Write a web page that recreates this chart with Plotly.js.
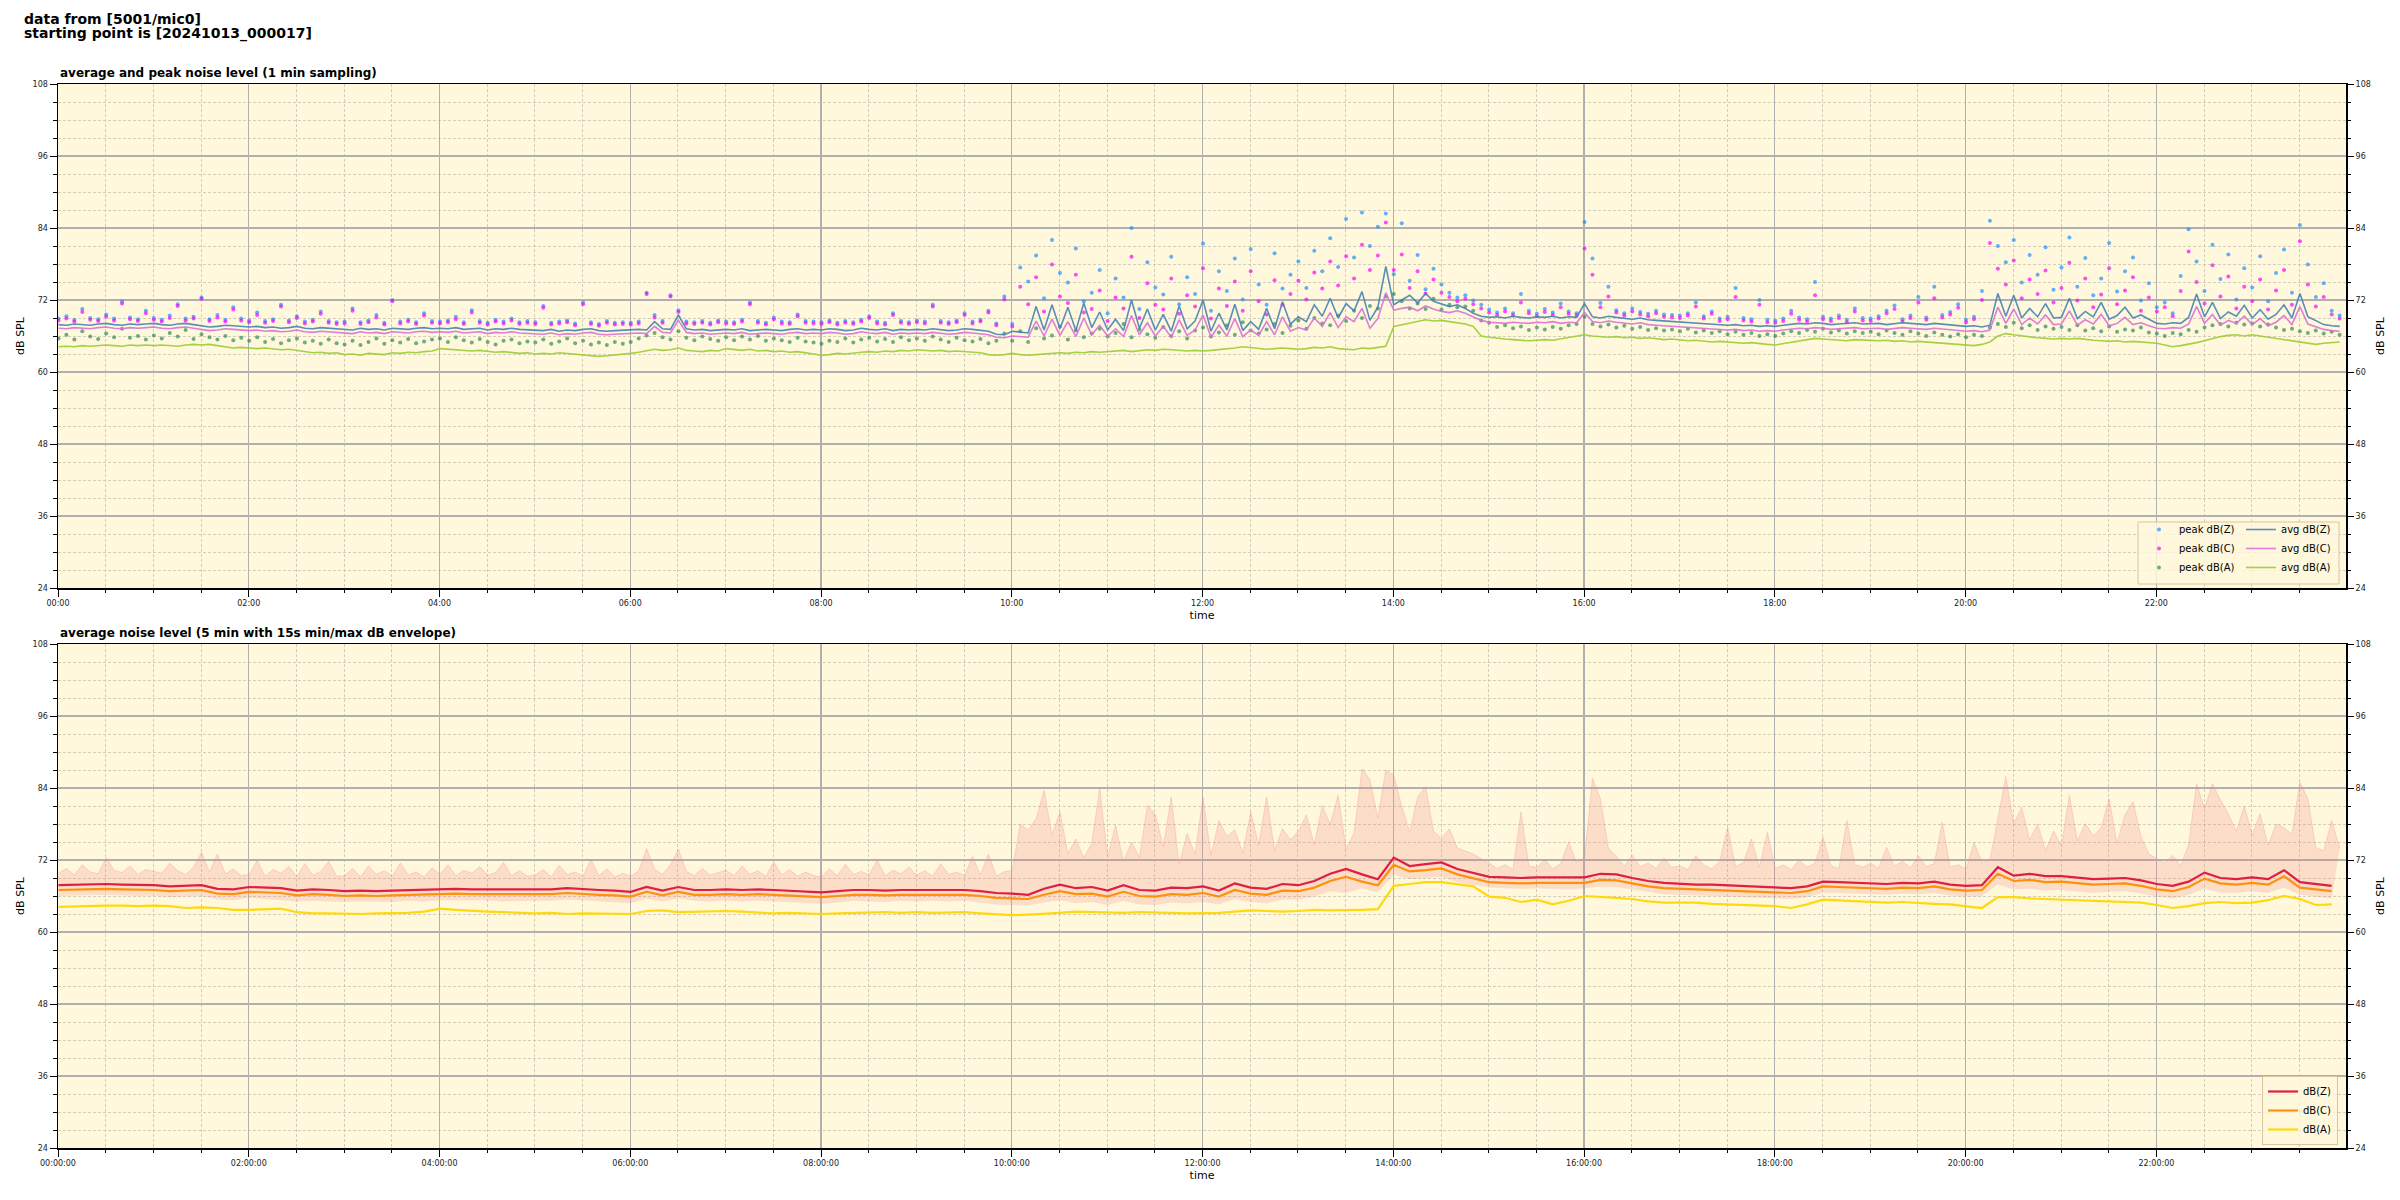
<!DOCTYPE html>
<html>
<head>
<meta charset="utf-8">
<script src="https://cdn.plot.ly/plotly-3.0.1.min.js"></script>
<style>html,body{margin:0;padding:0;background:#fff;}#chart{width:2400px;height:1200px;}</style>
</head>
<body>
<div id="chart"></div>
<script>
// ---------- DATA ----------
// top panel, 5-minute samples from 00:00 to 23:55 (12 values per hour row)
const avgZ = [
67.9,67.8,68.0,67.9,67.8,68.0,68.1,67.9,67.8,68.0,67.9,68.0,
68.1,67.9,67.8,68.0,68.1,67.9,67.7,67.5,67.6,67.8,67.7,67.6,
67.5,67.6,67.4,67.5,67.3,67.4,67.6,67.3,67.2,67.4,67.3,67.2,
67.2,67.0,67.3,67.1,67.2,67.0,67.3,67.2,67.1,67.3,67.4,67.2,
67.3,67.2,67.4,67.1,67.2,67.3,67.0,67.2,67.1,67.3,67.1,67.0,
67.0,66.9,67.1,66.8,67.0,66.9,67.1,67.2,66.9,66.8,66.9,67.0,
67.0,67.1,67.0,68.4,67.2,67.1,69.5,67.2,67.0,67.1,66.9,67.0,
67.1,67.0,67.2,66.9,67.0,67.1,67.0,66.9,67.1,67.2,67.0,67.1,
67.0,67.2,67.1,66.9,67.0,67.3,67.1,67.0,67.2,66.9,67.1,67.0,
67.1,67.0,67.2,67.1,66.9,67.0,67.2,67.1,67.0,66.8,66.3,66.2,
66.8,66.7,66.5,70.9,67.0,71.2,67.2,70.8,66.9,71.5,67.4,70.0,
67.0,68.8,66.9,72.0,67.3,70.5,67.0,69.6,66.8,71.0,67.2,68.5,
72.0,66.8,69.8,67.0,71.3,66.9,68.4,67.1,70.6,67.2,71.7,68.0,
69.2,68.4,71.2,69.3,72.3,69.0,71.4,70.2,73.4,68.6,70.8,77.6,
71.2,72.0,72.8,71.5,73.1,71.8,71.3,70.9,71.2,70.6,69.8,69.3,
69.1,69.2,69.0,69.3,69.1,69.0,69.2,69.1,69.3,69.0,69.2,69.1,
71.4,69.2,69.0,69.3,69.1,68.9,68.8,69.0,68.7,68.6,68.5,68.4,
68.4,68.3,68.2,68.1,68.0,67.9,67.8,67.9,67.7,67.8,67.6,67.7,
67.6,67.8,67.9,68.1,68.0,68.2,68.1,67.9,68.0,68.1,68.2,68.0,
68.0,68.1,67.9,68.0,68.2,68.1,68.0,67.9,68.1,68.0,67.8,67.7,
67.6,67.7,67.5,67.8,73.1,69.3,72.8,69.0,70.6,69.2,71.4,69.0,
69.1,72.3,68.9,70.1,69.2,71.6,68.8,69.4,70.8,69.0,69.5,68.8,
68.1,68.0,68.2,68.1,69.1,73.0,69.2,71.6,68.9,70.0,69.3,71.1,
69.0,70.4,68.8,69.6,71.2,69.0,73.1,69.2,68.5,67.9,67.7,67.6];
const avgC = [
67.3,67.2,67.4,67.3,67.2,67.4,67.5,67.3,67.2,67.4,67.3,67.4,
67.5,67.3,67.2,67.4,67.5,67.3,67.1,66.9,67.0,67.2,67.1,67.0,
66.9,67.0,66.8,66.9,66.7,66.8,67.0,66.7,66.6,66.8,66.7,66.6,
66.6,66.4,66.7,66.5,66.6,66.4,66.7,66.6,66.5,66.7,66.8,66.6,
66.7,66.6,66.8,66.5,66.6,66.7,66.4,66.6,66.5,66.7,66.5,66.4,
66.4,66.3,66.5,66.2,66.4,66.3,66.5,66.6,66.3,66.2,66.3,66.4,
66.4,66.5,66.4,67.6,66.6,66.5,68.6,66.6,66.4,66.5,66.3,66.4,
66.5,66.4,66.6,66.3,66.4,66.5,66.4,66.3,66.5,66.6,66.4,66.5,
66.4,66.6,66.5,66.3,66.4,66.7,66.5,66.4,66.6,66.3,66.5,66.4,
66.5,66.4,66.6,66.5,66.3,66.4,66.6,66.5,66.4,66.2,65.8,65.7,
66.0,65.9,65.8,68.5,66.0,68.8,66.1,68.4,65.9,69.0,66.2,67.8,
66.0,67.2,65.9,69.4,66.2,68.2,66.0,67.6,65.8,68.7,66.1,67.0,
69.5,65.8,67.8,66.0,68.9,65.9,67.0,66.1,68.4,66.2,69.2,66.8,
67.4,67.0,69.0,67.6,69.9,67.4,69.2,68.4,70.6,67.3,68.9,73.2,
70.3,70.6,70.8,70.2,71.0,70.5,70.1,69.9,70.2,69.8,69.2,68.6,
68.3,68.2,68.1,68.3,68.2,68.1,68.3,68.2,68.4,68.1,68.3,68.2,
69.9,68.4,68.2,68.5,68.3,68.1,68.0,68.2,67.9,67.8,67.7,67.6,
67.6,67.5,67.4,67.3,67.2,67.1,67.0,67.1,66.9,67.0,66.8,66.9,
66.8,67.0,67.1,67.3,67.2,67.4,67.3,67.1,67.2,67.3,67.4,67.2,
67.2,67.3,67.1,67.2,67.4,67.3,67.2,67.1,67.3,67.2,67.0,66.9,
66.8,66.9,66.7,67.0,70.8,68.1,70.5,67.9,69.0,68.0,69.5,67.9,
68.0,70.2,67.8,68.7,68.0,69.6,67.7,68.1,69.1,67.9,68.2,67.7,
67.3,67.2,67.4,67.3,68.0,70.9,68.1,69.6,67.8,68.6,68.1,69.3,
67.9,68.9,67.7,68.3,69.4,67.9,70.9,68.0,67.5,67.1,66.9,66.8];
const avgA = [
64.2,64.3,64.2,64.4,64.3,64.4,64.5,64.4,64.3,64.5,64.4,64.5,
64.4,64.5,64.4,64.3,64.5,64.6,64.5,64.6,64.4,64.2,64.0,64.1,
64.0,63.9,64.0,63.8,63.7,63.8,63.6,63.4,63.2,63.3,63.1,63.2,
62.9,63.0,62.8,63.1,63.0,62.9,63.2,63.1,63.3,63.2,63.4,63.5,
63.9,63.8,63.7,63.6,63.5,63.6,63.4,63.3,63.4,63.2,63.1,63.2,
63.0,63.1,63.0,63.2,63.1,63.0,62.9,62.8,62.6,62.7,62.8,62.9,
63.1,63.3,63.5,63.8,63.6,63.7,64.0,63.6,63.5,63.4,63.6,63.5,
63.9,63.7,63.6,63.8,63.5,63.6,63.4,63.5,63.3,63.4,63.2,63.1,
62.8,62.9,63.1,63.0,63.2,63.3,63.4,63.3,63.5,63.4,63.6,63.5,
63.7,63.6,63.5,63.6,63.4,63.5,63.4,63.3,63.2,62.9,62.8,62.9,
63.1,62.9,62.8,62.9,63.0,63.1,63.2,63.1,63.3,63.2,63.4,63.3,
63.4,63.5,63.6,63.4,63.5,63.7,63.6,63.8,63.7,63.6,63.5,63.6,
63.5,63.6,63.7,63.8,64.0,64.2,64.1,63.9,63.8,63.9,64.0,63.9,
63.8,63.9,64.1,64.0,64.2,63.9,63.8,63.7,64.0,63.9,64.1,64.3,
67.6,67.9,68.1,68.4,68.7,68.5,68.6,68.4,68.2,68.0,67.6,66.0,
65.8,65.6,65.5,65.4,65.3,65.2,65.3,65.4,65.3,65.5,65.7,65.9,
66.2,66.0,65.9,65.8,65.9,65.7,65.8,65.6,65.7,65.5,65.4,65.5,
65.3,65.2,65.3,65.1,65.0,65.1,65.0,64.9,64.8,64.9,64.7,64.6,
64.5,64.7,64.9,65.2,65.4,65.6,65.5,65.4,65.3,65.2,65.4,65.3,
65.3,65.2,65.3,65.1,65.2,65.0,65.1,65.0,64.9,64.8,64.7,64.6,
64.5,64.4,64.6,65.0,66.0,66.4,66.2,66.0,65.8,65.7,65.6,65.5,
65.6,65.5,65.6,65.4,65.3,65.2,65.1,65.2,65.0,65.1,65.0,64.9,
64.8,64.5,64.2,64.4,64.6,64.9,65.2,65.6,65.9,66.1,66.2,66.0,
66.2,66.0,65.8,65.6,65.4,65.2,64.9,64.7,64.6,64.8,64.9,65.0];
const peakZ = [
68.9,69.3,68.7,70.5,69.0,68.8,69.6,68.9,71.8,69.1,68.8,70.2,
69.0,68.7,69.4,71.3,68.9,69.2,72.4,68.8,69.5,68.7,70.8,68.9,
68.6,69.9,68.5,68.8,71.2,68.6,69.3,68.4,68.7,70.1,68.5,68.3,
68.4,70.6,68.3,68.6,69.5,68.2,72.0,68.4,68.7,68.3,69.8,68.5,
68.4,68.6,69.2,68.3,70.3,68.5,68.2,68.7,68.4,68.9,68.3,68.5,
68.3,71.0,68.2,68.4,68.6,68.1,71.6,68.3,68.0,68.5,68.2,68.3,
68.2,68.4,73.2,69.5,68.5,72.8,70.3,68.4,68.3,68.5,68.2,68.6,
68.4,68.3,68.7,71.6,68.5,68.2,69.1,68.4,68.3,69.6,68.5,68.4,
68.3,68.6,68.2,68.5,68.3,68.7,69.3,68.4,68.2,69.8,68.5,68.3,
68.6,68.4,71.2,68.5,68.3,68.6,69.8,68.4,68.7,70.2,68.1,72.6,
68.0,77.4,75.1,79.4,72.3,82.0,76.5,74.9,80.6,71.8,73.2,77.0,
69.8,75.6,72.4,84.0,70.5,78.3,74.1,72.9,79.2,71.3,75.8,73.0,
81.4,70.2,76.8,73.5,78.9,72.1,80.5,74.6,71.2,79.8,73.9,76.2,
78.4,74.0,80.2,76.8,82.3,77.5,85.5,79.1,86.6,81.0,84.2,86.4,
76.3,84.8,75.2,79.5,73.8,77.2,74.6,73.2,72.4,72.8,71.9,71.2,
70.4,69.9,70.6,69.8,73.0,70.2,69.7,70.5,69.9,71.4,70.1,69.8,
85.0,78.9,71.5,74.2,70.3,69.8,70.6,70.0,69.7,70.2,69.6,69.5,
69.4,69.8,71.6,69.3,70.1,68.9,69.2,74.0,69.0,68.8,72.0,68.7,
68.6,68.9,70.2,69.1,68.8,75.0,69.2,68.9,69.4,68.7,70.6,69.0,
68.9,69.3,70.2,71.1,68.8,69.4,72.5,69.1,74.2,69.5,70.0,71.3,
68.7,69.2,73.5,85.2,81.0,78.3,82.0,74.9,79.5,76.2,80.8,73.7,
77.4,82.4,74.2,79.0,72.8,75.6,81.5,73.4,76.8,79.1,71.9,74.8,
70.8,71.6,69.8,76.0,83.8,78.4,73.5,81.2,75.5,79.6,72.1,77.3,
74.1,79.3,71.8,76.5,80.4,73.2,84.5,77.9,72.5,74.8,70.2,69.4];
const peakC = [
68.6,68.9,68.4,70.0,68.7,68.5,69.2,68.6,71.4,68.8,68.5,69.8,
68.7,68.4,69.0,71.0,68.6,68.9,72.2,68.5,69.1,68.4,70.4,68.6,
68.3,69.5,68.2,68.5,70.9,68.3,69.0,68.1,68.4,69.7,68.2,68.0,
68.1,70.2,68.0,68.3,69.1,67.9,71.8,68.1,68.4,68.0,69.4,68.2,
68.1,68.3,68.8,68.0,69.9,68.2,67.9,68.4,68.1,68.6,68.0,68.2,
68.0,70.7,67.9,68.1,68.3,67.8,71.3,68.0,67.7,68.2,67.9,68.0,
67.9,68.1,73.0,69.1,68.2,72.6,70.0,68.1,68.0,68.2,67.9,68.3,
68.1,68.0,68.4,71.3,68.2,67.9,68.8,68.1,68.0,69.3,68.2,68.1,
68.0,68.3,67.9,68.2,68.0,68.4,69.0,68.1,67.9,69.5,68.2,68.0,
68.3,68.1,70.9,68.2,68.0,68.3,69.5,68.1,68.4,69.9,67.8,72.1,
67.6,74.2,71.3,75.8,70.1,77.9,72.6,71.5,76.2,69.9,70.5,73.6,
68.5,72.4,70.6,79.2,69.0,74.8,71.2,70.4,75.6,69.7,72.8,70.9,
77.3,68.9,73.9,71.0,75.1,70.2,76.8,71.8,69.6,75.3,71.2,73.0,
75.2,72.1,76.6,73.9,78.4,74.4,79.3,75.6,81.2,77.0,79.4,84.9,
77.0,79.6,74.0,76.8,73.1,75.4,73.2,72.5,71.8,72.2,71.3,70.6,
69.9,69.5,70.1,69.4,71.6,69.8,69.3,70.0,69.5,70.8,69.7,69.4,
80.6,76.2,70.8,72.6,69.9,69.4,70.1,69.6,69.3,69.8,69.2,69.1,
69.0,69.4,70.9,68.9,69.7,68.5,68.8,72.5,68.6,68.4,71.2,68.3,
68.2,68.5,69.7,68.7,68.4,72.8,68.8,68.5,69.0,68.3,70.1,68.6,
68.5,68.9,69.8,70.5,68.4,69.0,71.6,68.7,72.3,69.1,69.6,70.7,
68.3,68.8,72.0,81.5,77.2,74.6,78.6,72.3,75.4,73.0,76.9,71.6,
74.0,78.2,71.9,75.6,70.8,72.9,77.3,71.3,73.6,75.8,70.2,72.4,
70.1,70.8,69.3,73.5,80.1,75.0,71.4,77.8,72.6,75.9,70.6,74.2,
71.8,75.4,70.4,73.6,77.0,71.2,81.8,74.6,70.9,72.5,69.6,68.9];
const peakA = [
65.6,66.2,65.4,66.8,65.9,65.5,66.4,65.8,67.2,65.7,66.0,65.4,
66.1,65.6,66.5,65.9,67.0,65.5,66.3,65.8,65.4,66.0,65.3,65.7,
65.2,65.8,65.0,65.5,64.8,65.3,65.6,64.9,65.2,64.7,65.4,64.8,
64.6,65.2,64.5,65.0,65.6,64.7,65.3,64.9,65.5,64.8,65.1,65.4,
65.6,65.0,65.8,65.3,64.9,65.5,65.0,64.6,65.2,65.4,64.8,65.1,
64.9,65.4,64.7,65.1,65.6,64.8,65.2,64.6,64.9,64.5,65.0,64.7,
65.0,65.6,66.1,66.5,65.8,65.4,66.8,65.7,65.3,65.9,65.5,65.2,
65.8,65.3,65.9,65.4,66.0,65.2,65.6,65.3,65.0,65.7,65.1,64.9,
64.7,65.2,65.0,65.6,64.9,65.4,65.7,65.1,65.5,65.0,65.8,65.3,
65.6,65.2,65.9,65.4,65.0,65.7,65.3,65.1,65.5,64.8,65.2,66.4,
65.2,66.8,65.0,67.3,65.6,66.1,67.6,65.4,66.9,65.8,66.4,67.2,
65.9,66.5,68.0,65.8,67.1,66.3,65.7,67.5,66.0,66.8,65.6,66.9,
67.4,65.9,66.6,67.8,66.2,68.3,66.9,66.4,67.1,68.0,66.5,67.7,
68.6,67.2,69.0,68.1,67.8,69.4,68.5,70.2,69.0,71.0,70.6,72.6,
73.0,71.8,70.6,71.4,70.5,72.2,70.4,71.2,70.8,70.9,70.2,68.6,
68.2,67.5,67.8,67.3,67.6,67.0,67.4,67.1,67.5,67.2,67.8,68.0,
69.2,68.0,67.6,67.9,67.4,67.7,67.2,67.5,67.0,67.3,66.9,67.1,
66.8,67.2,66.6,66.9,66.5,66.8,66.3,66.7,66.2,66.5,66.0,66.3,
66.0,66.4,66.8,66.5,67.0,66.7,67.2,66.6,66.9,66.4,66.8,66.5,
66.7,66.3,66.9,66.5,66.2,66.8,66.4,66.0,66.6,66.2,65.9,66.3,
65.8,66.2,66.0,67.4,68.0,67.5,68.2,67.3,67.8,67.0,67.6,67.2,
67.5,67.0,67.8,66.9,67.3,66.8,67.6,66.7,67.1,66.9,67.4,66.6,
66.4,66.0,66.5,66.3,67.0,66.7,67.4,67.8,68.0,67.6,68.2,67.9,
68.1,67.6,67.9,67.4,67.0,67.2,66.8,66.5,66.9,66.4,66.7,66.2];

// bottom panel, 5-min averages shown every 10 minutes (6 values per hour)
const lvlZ = [
67.8,67.9,67.9,68.0,67.9,67.9, 67.8,67.6,67.7,67.8,67.2,67.1,
67.5,67.4,67.3,66.9,67.1,67.0, 66.8,66.9,66.8,66.9,67.0,67.0,
67.1,67.2,67.1,67.1,67.0,67.1, 67.0,67.1,67.3,67.1,67.0,66.9,
66.7,67.5,66.9,67.5,67.0,67.0, 67.1,67.0,67.1,67.0,66.9,66.8,
66.6,66.8,67.0,67.0,66.9,67.0, 67.0,67.1,67.0,67.0,66.8,66.5,
66.4,66.2,67.2,67.9,67.3,67.5, 66.9,67.8,67.0,66.9,67.4,67.3,
67.6,66.9,68.1,67.4,67.2,68.0, 67.8,68.5,69.7,70.5,69.6,68.8,
72.4,71.0,71.3,71.6,70.5,69.9, 69.2,69.1,69.0,69.1,69.1,69.0,
69.1,69.7,69.6,69.0,68.5,68.2, 68.0,67.9,67.9,67.8,67.6,67.5,
67.4,67.3,67.6,68.4,68.3,68.2, 68.1,68.0,68.2,68.1,68.4,67.9,
67.7,67.8,70.8,69.4,69.7,69.3, 69.3,69.0,68.8,68.9,69.0,68.6,
68.0,67.7,68.4,69.9,69.0,68.8, 69.1,68.8,70.3,68.3,68.0,67.7];
const lvlC = [
67.0,67.1,67.1,67.2,67.1,67.1, 67.0,66.8,66.9,67.0,66.4,66.3,
66.7,66.6,66.5,66.1,66.3,66.2, 66.0,66.1,66.0,66.1,66.2,66.2,
66.3,66.4,66.3,66.3,66.2,66.3, 66.2,66.3,66.5,66.3,66.2,66.1,
65.9,66.7,66.1,66.7,66.2,66.2, 66.3,66.2,66.3,66.2,66.1,66.0,
65.8,66.0,66.2,66.2,66.1,66.2, 66.2,66.3,66.2,66.2,66.0,65.7,
65.6,65.5,66.2,66.8,66.3,66.4, 65.9,66.7,66.0,65.9,66.3,66.2,
66.5,65.9,67.0,66.4,66.2,66.9, 66.8,67.4,68.5,69.2,68.4,67.8,
71.2,70.1,70.3,70.6,69.6,69.0, 68.3,68.2,68.1,68.2,68.2,68.1,
68.2,68.7,68.6,68.1,67.6,67.3, 67.2,67.1,67.1,67.0,66.8,66.7,
66.6,66.5,66.8,67.6,67.5,67.4, 67.3,67.2,67.4,67.3,67.6,67.1,
66.9,67.0,69.7,68.5,68.7,68.3, 68.4,68.1,67.9,68.0,68.1,67.7,
67.1,66.8,67.5,68.9,68.1,67.9, 68.2,67.9,69.3,67.4,67.1,66.8];
const lvlA = [
64.2,64.3,64.4,64.4,64.4,64.3, 64.4,64.3,64.0,64.1,64.0,63.7,
63.7,63.8,63.9,63.3,63.1,63.1, 63.0,63.0,63.1,63.1,63.2,63.4,
63.9,63.7,63.5,63.4,63.3,63.2, 63.1,63.2,63.0,63.1,63.1,63.0,
63.0,63.5,63.6,63.3,63.4,63.4, 63.5,63.4,63.2,63.1,63.2,63.1,
63.0,63.1,63.2,63.2,63.3,63.2, 63.3,63.2,63.2,63.3,63.1,62.9,
62.8,62.9,63.0,63.2,63.4,63.3, 63.3,63.2,63.3,63.3,63.2,63.1,
63.1,63.2,63.4,63.6,63.5,63.4, 63.5,63.7,63.6,63.6,63.7,63.8,
67.7,68.0,68.3,68.3,68.0,67.6, 65.9,65.7,65.0,65.4,64.6,65.2,
66.0,65.9,65.7,65.5,65.1,64.9, 64.9,64.9,64.7,64.6,64.5,64.4,
64.3,64.0,64.6,65.4,65.3,65.1, 65.0,64.9,65.0,64.8,64.7,64.6,
64.3,64.0,65.8,65.8,65.6,65.5, 65.4,65.4,65.3,65.2,65.0,64.9,
64.5,64.0,64.3,64.8,65.0,64.8, 64.9,65.3,66.0,65.5,64.5,64.6];
// 15 s min/max envelope: minimum every 10 min, maximum every 5 min
const envMin = [
66.0,66.1,66.2,66.2,66.1,66.0, 66.1,65.8,65.9,66.0,65.4,65.3,
65.7,65.5,65.4,65.1,65.2,65.1, 65.0,65.1,65.0,65.0,65.2,65.1,
65.3,65.3,65.2,65.3,65.1,65.2, 65.2,65.2,65.4,65.3,65.1,65.0,
64.8,65.6,65.1,65.6,65.2,65.1, 65.3,65.1,65.2,65.1,65.0,64.9,
64.7,64.9,65.2,65.1,65.0,65.2, 65.1,65.2,65.1,65.2,64.9,64.6,
64.5,64.4,64.9,65.3,64.8,65.0, 64.5,65.2,64.6,64.5,64.9,64.8,
65.0,64.6,65.5,65.0,64.8,65.4, 65.4,65.9,66.8,66.5,67.3,66.6,
69.6,68.8,69.0,69.2,68.3,67.8, 67.4,67.3,67.2,67.3,67.2,67.1,
67.3,67.6,67.5,67.1,66.6,66.3, 66.2,66.1,66.1,66.0,65.8,65.7,
65.6,65.5,65.8,66.6,66.5,66.4, 66.3,66.2,66.4,66.3,66.5,66.1,
65.9,66.0,67.9,67.1,67.2,66.9, 67.0,66.7,66.5,66.7,66.8,66.4,
65.9,65.6,66.2,67.2,66.6,66.5, 66.8,66.5,67.4,66.2,65.9,65.6];
const envMax = [
69.8,70.6,69.5,71.2,70.0,69.7,72.4,70.3,69.9,71.0,69.6,70.4,
70.1,69.8,71.5,70.2,69.6,70.8,73.3,70.0,73.0,69.7,70.5,69.4,
69.6,71.9,69.3,70.4,69.8,70.9,69.2,71.4,69.5,70.1,71.8,69.3,
69.4,70.6,69.2,71.0,69.6,70.2,69.3,71.5,69.5,70.0,69.2,70.7,
69.6,71.2,69.4,70.3,69.8,70.9,69.5,69.9,71.6,69.4,70.2,69.3,
69.5,70.4,69.2,71.1,69.6,70.0,69.3,72.1,69.4,70.5,69.2,69.8,
69.3,70.2,73.9,70.5,69.6,71.2,73.8,70.1,69.4,70.6,69.5,69.9,
70.3,69.4,71.0,69.6,70.2,69.3,71.7,69.5,70.4,69.3,70.0,69.4,
69.2,70.5,69.4,71.3,69.6,70.1,69.5,72.0,69.4,70.3,69.7,70.8,
69.5,70.2,69.3,71.4,69.6,70.0,69.4,72.6,69.5,73.0,69.3,70.1,
70.2,78.0,77.0,78.9,83.6,76.2,80.0,73.1,75.5,72.4,74.8,83.9,
72.6,77.8,71.8,75.0,72.4,81.1,79.6,74.2,82.5,71.3,76.4,73.0,
82.5,72.8,78.6,75.9,77.0,73.2,80.0,74.5,82.5,73.6,77.2,75.4,
76.8,79.5,74.6,81.1,77.9,82.8,73.8,76.5,87.2,85.4,79.0,87.0,
86.1,81.0,76.6,82.5,84.2,76.8,75.6,77.2,74.0,73.5,73.0,72.2,
71.5,70.6,71.2,70.4,80.0,71.0,70.8,72.1,70.5,71.4,75.0,71.6,
72.4,85.6,82.2,74.0,72.6,71.0,72.8,70.9,71.5,70.6,72.3,70.8,
71.0,70.4,72.7,71.2,70.5,71.8,77.5,70.9,71.6,75.5,70.8,76.6,
70.6,71.2,70.4,72.0,70.8,71.5,75.8,71.0,70.6,78.6,71.3,70.8,
71.5,70.6,74.1,71.0,71.8,70.7,72.7,70.9,71.4,78.3,70.8,71.2,
70.5,74.9,71.6,72.0,79.2,85.9,78.0,80.8,75.4,78.0,73.6,76.8,
74.4,82.8,75.2,78.1,76.0,77.4,82.2,74.8,79.6,81.7,75.9,73.0,
72.2,71.5,72.8,71.0,74.6,84.7,80.6,84.7,82.0,79.7,76.8,81.0,
76.2,79.7,74.5,78.0,77.4,76.3,85.0,82.2,74.1,73.5,78.6,74.0];

const seriesNamesTop = ['peak dB(Z)','peak dB(C)','peak dB(A)','avg dB(Z)','avg dB(C)','avg dB(A)'];
const seriesNamesBottom = ['dB(Z)','dB(C)','dB(A)'];
const titleLines = ['data from [5001/mic0]','starting point is [20241013_000017]'];
const panelTitles = ['average and peak noise level (1 min sampling)','average noise level (5 min with 15s min/max dB envelope)'];
const yTickVals = [24,36,48,60,72,84,96,108];
const dayRange = ['2024-10-13 00:00:00','2024-10-13 23:59:17'];

// ---------- time axis ----------
function timeAxis(n, stepMin){
  const t0 = Date.UTC(2024,9,13,0,0,17);
  const out = [];
  for (let i=0;i<n;i++){ out.push(new Date(t0 + i*stepMin*60000).toISOString().replace('T',' ').slice(0,19)); }
  return out;
}
const t5 = timeAxis(avgZ.length, 5);
const t10 = timeAxis(lvlZ.length, 10);

const FONT = 'DejaVu Sans, Liberation Sans, sans-serif';

// ---------- traces ----------
const traces = [];
function peak(y, name, color){
  return {x:t5, y:y, name:name, type:'scatter', mode:'markers', xaxis:'x', yaxis:'y',
    marker:{color:color, size:4, opacity:0.7}, legend:'legend', hoverinfo:'skip'};
}
function avg(y, name, color){
  return {x:t5, y:y, name:name, type:'scatter', mode:'lines', xaxis:'x', yaxis:'y',
    line:{color:color, width:1.6}, opacity:0.9, legend:'legend2', hoverinfo:'skip'};
}
traces.push(peak(peakZ, seriesNamesTop[0], '#1e90ff'));
traces.push(peak(peakC, seriesNamesTop[1], '#ff00ff'));
traces.push(peak(peakA, seriesNamesTop[2], '#2e8b57'));
traces.push(avg(avgZ, seriesNamesTop[3], '#4682b4'));
traces.push(avg(avgC, seriesNamesTop[4], '#da70d6'));
traces.push(avg(avgA, seriesNamesTop[5], '#9acd32'));
// right-side axis of top panel
traces.push({x:t5, y:avgA, xaxis:'x', yaxis:'y3', mode:'lines', line:{width:0}, opacity:0, showlegend:false, hoverinfo:'skip'});

// bottom panel envelope
traces.push({x:t10, y:envMin, xaxis:'x2', yaxis:'y2', mode:'lines', line:{width:0, color:'rgba(240,128,128,0)'}, showlegend:false, hoverinfo:'skip'});
traces.push({x:t5, y:envMax, xaxis:'x2', yaxis:'y2', mode:'lines', fill:'tonexty', fillcolor:'rgba(240,128,128,0.22)',
  line:{width:0.8, color:'rgba(240,128,128,0.35)'}, showlegend:false, hoverinfo:'skip'});
function lvl(y, name, color){
  return {x:t10, y:y, name:name, type:'scatter', mode:'lines', xaxis:'x2', yaxis:'y2',
    line:{color:color, width:2.2}, opacity:0.95, legend:'legend3', hoverinfo:'skip'};
}
traces.push(lvl(lvlZ, seriesNamesBottom[0], '#dc143c'));
traces.push(lvl(lvlC, seriesNamesBottom[1], '#ff8c00'));
traces.push(lvl(lvlA, seriesNamesBottom[2], '#ffd700'));
traces.push({x:t10, y:lvlA, xaxis:'x2', yaxis:'y4', mode:'lines', line:{width:0}, opacity:0, showlegend:false, hoverinfo:'skip'});

// ---------- layout ----------
const W=2400, H=1200, L=58, R=54, T=84, B=52;
const plotW = W-L-R, plotH = H-T-B;
const px2x = px => (px-L)/plotW;
const py2y = py => (H-B-py)/plotH;

const minorGrid = {showgrid:true, gridcolor:'#c8c3b3', griddash:'3px,2px', gridwidth:0.8};
function xAxis(anchor, fmt){
  return {type:'date', range:dayRange, anchor:anchor, domain:[0,1],
    tick0:'2024-10-13 00:00:00', dtick:7200000, tickformat:fmt,
    ticks:'outside', ticklen:7, tickwidth:1, tickcolor:'#000',
    showline:true, linecolor:'#000', linewidth:1.5, mirror:true,
    showgrid:true, gridcolor:'#b0b0b0', gridwidth:1.3, zeroline:false,
    tickfont:{family:FONT, size:8, color:'#222'},
    minor:Object.assign({dtick:1800000, ticks:'outside', ticklen:3.5, tickcolor:'#000'}, minorGrid),
    title:{text:'time', font:{family:FONT, size:11, color:'#000'}, standoff:4},
    automargin:false};
}
function yAxis(domain, anchor){
  return {range:[24,108], domain:domain, anchor:anchor, tickvals:yTickVals,
    ticks:'outside', ticklen:7, tickwidth:1, tickcolor:'#000',
    showline:true, linecolor:'#000', linewidth:1.5, mirror:true,
    showgrid:true, gridcolor:'#b0b0b0', gridwidth:2, zeroline:false,
    tickfont:{family:FONT, size:8, color:'#222'},
    minor:Object.assign({dtick:3, tick0:24, ticks:'outside', ticklen:3.5, tickcolor:'#000'}, minorGrid),
    title:{text:'dB SPL', font:{family:FONT, size:11, color:'#000'}, standoff:6},
    automargin:false};
}
function yRight(over, anchor){
  return {range:[24,108], overlaying:over, anchor:anchor, side:'right', tickvals:yTickVals,
    ticks:'outside', ticklen:7, tickwidth:1, tickcolor:'#000',
    showline:false, showgrid:false, zeroline:false,
    tickfont:{family:FONT, size:8, color:'#222'},
    minor:{dtick:3, tick0:24, ticks:'outside', ticklen:3.5, tickcolor:'#000', showgrid:false},
    title:{text:'dB SPL', font:{family:FONT, size:11, color:'#000'}, standoff:6},
    automargin:false};
}

const topDom = [py2y(588), 1];
const botDom = [0, py2y(644)];

const legFont = {family:FONT, size:10, color:'#000'};
const annFont = {family:FONT, size:12, color:'#000', weight:'bold'};
const layout = {
  width:W, height:H,
  margin:{l:L, r:R, t:T, b:B, pad:0},
  paper_bgcolor:'#ffffff', plot_bgcolor:'#fff8dc',
  font:{family:FONT, size:8, color:'#000'},
  showlegend:true,
  xaxis: xAxis('y', '%H:%M'),
  yaxis: yAxis(topDom, 'x'),
  xaxis2: xAxis('y2', '%H:%M:%S'),
  yaxis2: yAxis(botDom, 'x2'),
  yaxis3: yRight('y', 'x'),
  yaxis4: yRight('y2', 'x2'),
  legend: {x:px2x(2240), xanchor:'right', y:py2y(582), yanchor:'bottom', bgcolor:'rgba(0,0,0,0)', borderwidth:0,
    font:legFont, itemwidth:30, tracegroupgap:0, traceorder:'normal'},
  legend2:{x:px2x(2336), xanchor:'right', y:py2y(582), yanchor:'bottom', bgcolor:'rgba(0,0,0,0)', borderwidth:0,
    font:legFont, itemwidth:30, tracegroupgap:0, traceorder:'normal'},
  legend3:{x:px2x(2338), xanchor:'right', y:py2y(1145), yanchor:'bottom', bgcolor:'rgba(255,248,220,0.8)', bordercolor:'#d9c6a0', borderwidth:1,
    font:legFont, itemwidth:30, tracegroupgap:0, traceorder:'normal'},
  shapes:[{type:'rect', xref:'paper', yref:'paper', x0:px2x(2138), x1:px2x(2339), y0:py2y(584), y1:py2y(522),
    fillcolor:'rgba(255,248,220,0.8)', line:{color:'#d9c6a0', width:1}, layer:'above'}],
  annotations:[
    {text:'<b>'+titleLines[0]+'</b>', xref:'paper', yref:'paper', x:px2x(22), y:py2y(19), xanchor:'left', yanchor:'middle', showarrow:false, font:{family:FONT, size:14, color:'#000', weight:'bold'}},
    {text:'<b>'+titleLines[1]+'</b>', xref:'paper', yref:'paper', x:px2x(22), y:py2y(34), xanchor:'left', yanchor:'middle', showarrow:false, font:{family:FONT, size:14, color:'#000', weight:'bold'}},
    {text:'<b>'+panelTitles[0]+'</b>', xref:'paper', yref:'paper', x:0, y:1, xanchor:'left', yanchor:'bottom', yshift:2, showarrow:false, font:annFont},
    {text:'<b>'+panelTitles[1]+'</b>', xref:'paper', yref:'paper', x:0, y:botDom[1], xanchor:'left', yanchor:'bottom', yshift:2, showarrow:false, font:annFont}
  ]
};

Plotly.newPlot('chart', traces, layout, {staticPlot:true, displayModeBar:false});
</script>
</body>
</html>
